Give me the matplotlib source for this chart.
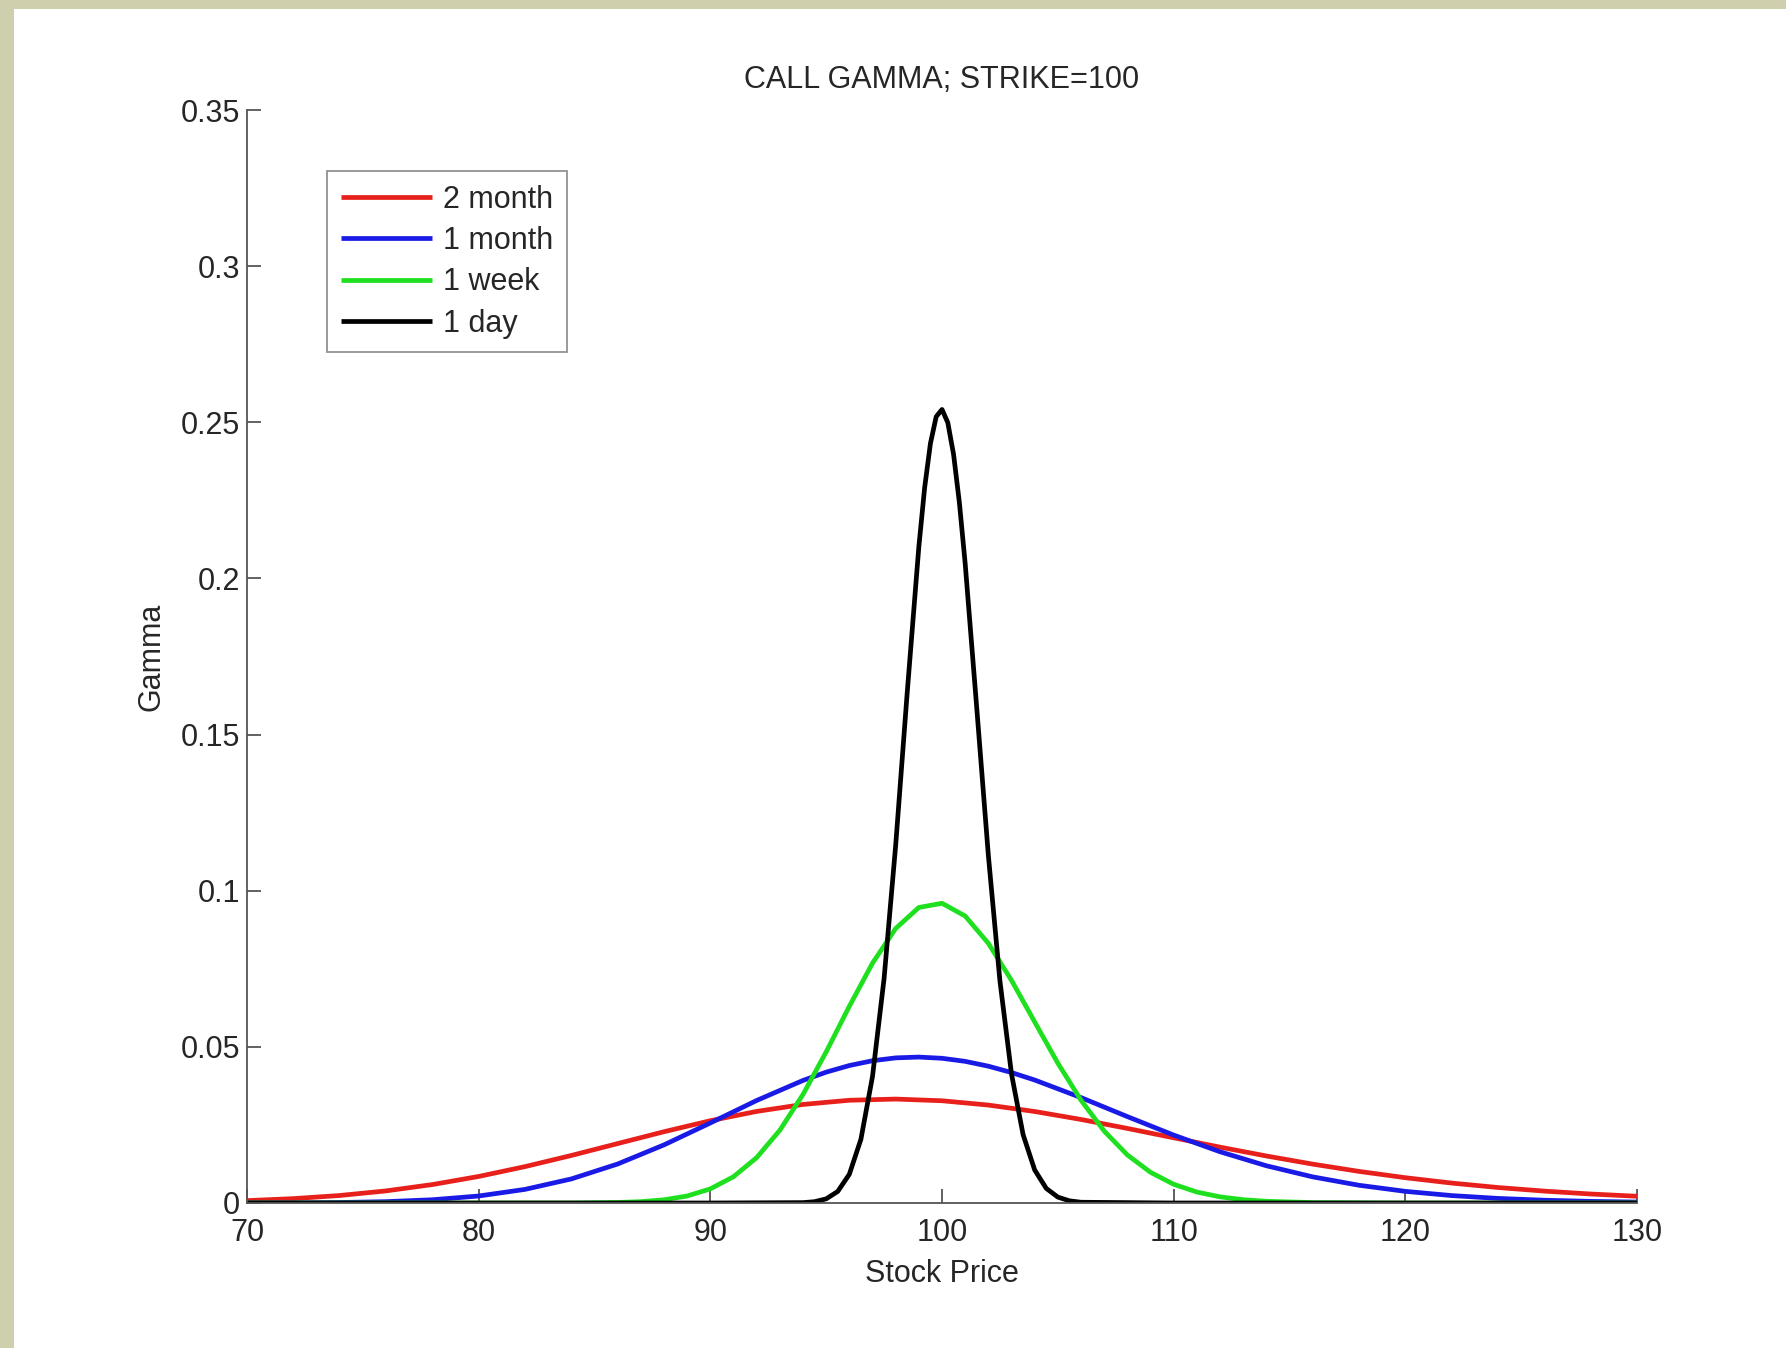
import numpy as np
import matplotlib.pyplot as plt
from matplotlib.patches import Rectangle

plt.rcParams["font.family"] = ["Liberation Sans", "DejaVu Sans"]

# Gamma values (strike = 100)
price_2m = [70, 72, 74, 76, 78, 80, 82, 84, 86, 88, 90, 92, 94, 96, 98, 100,
            102, 104, 106, 108, 110, 112, 114, 116, 118, 120, 122, 124, 126, 128, 130]
gamma_2m = [0.00076, 0.0014, 0.0024, 0.00388, 0.0059, 0.0085, 0.01165, 0.01522,
            0.01903, 0.02283, 0.02635, 0.02933, 0.03156, 0.0329, 0.03328, 0.03274,
            0.03136, 0.0293, 0.02675, 0.02388, 0.02088, 0.01789, 0.01506, 0.01245,
            0.01012, 0.0081, 0.00638, 0.00496, 0.00381, 0.00288, 0.00216]

price_1m = [70, 72, 74, 76, 78, 80, 82, 84, 86, 88, 90, 92, 94, 95, 96, 97, 98, 99,
            100, 101, 102, 103, 104, 106, 108, 110, 112, 114, 116, 118, 120, 122,
            124, 126, 128, 130]
gamma_1m = [0.00001, 0.00005, 0.00016, 0.00043, 0.00104, 0.00224, 0.00436, 0.00771,
            0.01249, 0.01861, 0.02563, 0.03283, 0.03925, 0.0419, 0.04402, 0.04556,
            0.04647, 0.04673, 0.04634, 0.04536, 0.04381, 0.04178, 0.03938, 0.03376,
            0.02767, 0.02175, 0.01641, 0.01193, 0.00837, 0.00568, 0.00373, 0.00238,
            0.00147, 0.00089, 0.00052, 0.0003]

price_1w = [70, 80, 84, 86, 87, 88, 89, 90, 91, 92, 93, 94, 95, 96, 97, 98, 99, 100,
            101, 102, 103, 104, 105, 106, 107, 108, 109, 110, 111, 112, 113, 114,
            116, 120, 130]
gamma_1w = [0.0, 0.0, 0.00002, 0.00017, 0.00043, 0.00103, 0.00224, 0.00452, 0.00842,
            0.01453, 0.0233, 0.03476, 0.04839, 0.06299, 0.07681, 0.0879, 0.09463,
            0.09598, 0.09189, 0.08316, 0.0713, 0.05799, 0.04478, 0.03292, 0.02304,
            0.0154, 0.00983, 0.006, 0.00351, 0.00197, 0.00106, 0.00055, 0.00013,
            0.0, 0.0]

price_1d = [70, 90, 94, 94.5, 95, 95.5, 96, 96.5, 97, 97.5, 98, 98.5, 99, 99.25,
            99.5, 99.75, 100, 100.25, 100.5, 100.75, 101, 101.5, 102, 102.5, 103,
            103.5, 104, 104.5, 105, 105.5, 106, 110, 130]
gamma_1d = [0.0, 0.0, 0.00012, 0.00042, 0.00132, 0.0037, 0.0092, 0.02041, 0.04052,
            0.07189, 0.1145, 0.1636, 0.2101, 0.229, 0.2432, 0.2518, 0.2541, 0.2499,
            0.2397, 0.2243, 0.2048, 0.1585, 0.1114, 0.07113, 0.04134, 0.0219,
            0.01059, 0.00468, 0.00189, 0.0007, 0.00024, 0.0, 0.0]

series_labels = ["2 month", "1 month", "1 week", "1 day"]
series_colors = ["#e8201c", "#1a1ae6", "#1fe01f", "#000000"]

y_ticks = [0, 0.05, 0.1, 0.15, 0.2, 0.25, 0.3, 0.35]
y_tick_labels = ["0", "0.05", "0.1", "0.15", "0.2", "0.25", "0.3", "0.35"]
x_ticks = [70, 80, 90, 100, 110, 120, 130]

TEXT = "#262626"
AXIS = "#555555"
FS = 22

fig = plt.figure(figsize=(17.86, 13.48), dpi=100, facecolor="#cfcfad")
# white page with beige strip on top and left
fig.patches.append(Rectangle((14 / 1786, 0), 1, 1 - 9 / 1348,
                             transform=fig.transFigure, facecolor="white",
                             edgecolor="none", zorder=-10))

ax = fig.add_axes([247 / 1786, 1 - 1203 / 1348, 1390 / 1786, 1093 / 1348])
ax.set_facecolor("white")

xs = [price_2m, price_1m, price_1w, price_1d]
ys = [gamma_2m, gamma_1m, gamma_1w, gamma_1d]
for x, y, lab, col in zip(xs, ys, series_labels, series_colors):
    ax.plot(x, y, color=col, lw=3.4, label=lab, solid_capstyle="butt")

ax.set_xlim(70, 130)
ax.set_ylim(0, 0.35)
ax.set_xticks(x_ticks)
ax.set_xticklabels([str(v) for v in x_ticks])
ax.set_yticks(y_ticks)
ax.set_yticklabels(y_tick_labels)

for side in ["top", "right"]:
    ax.spines[side].set_visible(False)
for side in ["left", "bottom"]:
    ax.spines[side].set_color(AXIS)
    ax.spines[side].set_linewidth(1.3)

ax.tick_params(axis="both", direction="in", length=10, width=1.3, color=AXIS,
               labelsize=FS, labelcolor=TEXT)
ax.tick_params(axis="x", pad=11)
ax.tick_params(axis="y", pad=5)

ax.set_title("CALL GAMMA; STRIKE=100", fontsize=FS, color=TEXT, pad=16)
ax.set_xlabel("Stock Price", fontsize=FS, color=TEXT, labelpad=7.5)
ax.set_ylabel("Gamma", fontsize=FS, color=TEXT, labelpad=10)

leg = ax.legend(loc="upper left", bbox_to_anchor=(327 / 1786, 1 - 171 / 1348),
                bbox_transform=fig.transFigure, fontsize=FS, frameon=True,
                fancybox=False, handlelength=3.0, handletextpad=0.35,
                labelspacing=0.37, borderpad=0.45, borderaxespad=0)
leg.get_frame().set_edgecolor("#777777")
leg.get_frame().set_linewidth(1.3)
for t in leg.get_texts():
    t.set_color(TEXT)

fig.savefig("out.png", dpi=100, facecolor=fig.get_facecolor())
